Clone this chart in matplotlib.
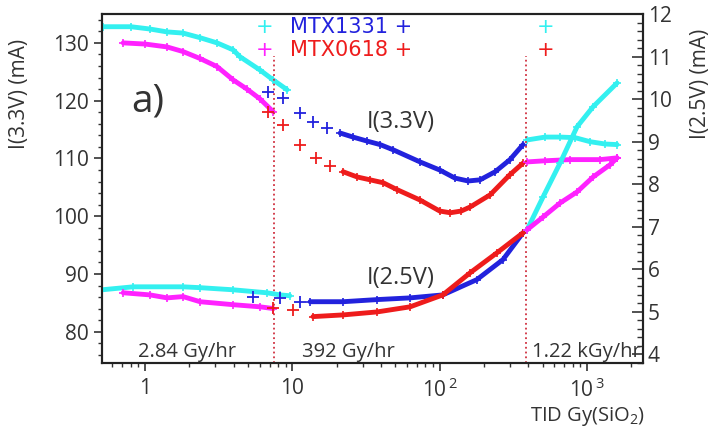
import matplotlib.pyplot as plt
import numpy as np

plt.rcParams['font.family'] = ['Open Sans', 'DejaVu Sans']

# I(3.3V) in mA (left axis), dose in Gy(SiO2)
c33_x = [0.52, 0.8, 1.08, 1.41, 1.81, 2.36, 3.08, 3.96, 4.41, 6.03, 7.4, 9.2]
c33_y = [132.8, 132.8, 132.4, 131.9, 131.7, 130.9, 130.0, 128.8, 127.6, 125.3, 123.6, 121.9]
m33_x = [0.71, 1.0, 1.41, 1.81, 2.36, 3.08, 3.96, 4.92, 6.03, 7.4]
m33_y = [130.0, 129.8, 129.3, 128.5, 127.3, 125.9, 123.6, 122.0, 120.3, 118.1]
b33_x = [6.8, 8.65, 11.3, 13.8, 17.2, 21.1, 25.8, 32.2, 39.4, 48.3, 73.6, 100, 127, 156, 188, 238, 300, 368]
b33_y = [121.5, 120.5, 117.9, 116.3, 115.3, 114.4, 113.7, 113.0, 112.4, 111.5, 109.4, 108.0, 106.6, 106.1, 106.3, 107.7, 109.8, 112.4]
r33_x = [6.8, 8.65, 11.3, 14.5, 18.0, 22.1, 27.5, 33.7, 41.3, 51.4, 73.6, 100, 118, 140, 161, 220, 300, 368]
r33_y = [118.1, 115.8, 112.4, 110.1, 108.7, 107.7, 106.8, 106.3, 105.8, 104.6, 102.8, 100.9, 100.6, 100.9, 101.6, 103.7, 107.2, 109.2]
c33b_x = [392, 520, 657, 830, 1050, 1327, 1601]
c33b_y = [113.2, 113.7, 113.7, 113.6, 112.9, 112.5, 112.4]
m33b_x = [392, 520, 768, 1227, 1601]
m33b_y = [109.4, 109.6, 109.8, 109.8, 110.1]

# I(2.5V) in mA (right axis)
c25_x = [0.51, 0.83, 1.81, 2.36, 3.96, 6.7, 8.26, 9.6]
c25_y = [5.52, 5.59, 5.59, 5.57, 5.52, 5.45, 5.40, 5.38]
m25_x = [0.71, 1.08, 1.41, 1.81, 2.36, 3.96, 6.03, 7.4]
m25_y = [5.45, 5.40, 5.33, 5.36, 5.24, 5.17, 5.12, 5.08]
b25_x = [5.4, 8.26, 11.3, 13.2, 22.1, 37.6, 63, 105, 179, 269, 368]
b25_y = [5.36, 5.33, 5.24, 5.24, 5.24, 5.29, 5.33, 5.40, 5.76, 6.23, 6.86]
r25_x = [7.4, 10.1, 13.8, 22.1, 37.6, 63, 105, 161, 245, 368]
r25_y = [5.10, 5.05, 4.89, 4.93, 5.00, 5.12, 5.40, 5.92, 6.39, 6.86]
c25b_x = [392, 503, 657, 856, 1099, 1601]
c25b_y = [6.93, 7.70, 8.50, 9.35, 9.82, 10.38]
m25b_x = [392, 503, 657, 856, 1099, 1436, 1601]
m25b_y = [6.93, 7.23, 7.56, 7.82, 8.17, 8.46, 8.62]

rate_change = [7.5, 386]

cyan = '#33f0f0'
magenta = '#ff22ff'
blue = '#2222dd'
red = '#ee1c1c'
tc = '#333333'

fig = plt.figure(figsize=(7.19, 4.30), dpi=100)
ax = fig.add_axes([102/719, 1-363/430, 541/719, 349/430])
ax2 = ax.twinx()


def curve(a, x, y, col, sparse_below=None):
    x = np.array(x)
    y = np.array(y)
    if sparse_below is None:
        a.plot(x, y, color=col, lw=3.5, marker='+', ms=6, mew=1.2, solid_capstyle='round')
    else:
        k = x >= sparse_below
        a.plot(x[~k], y[~k], ls='none', color=col, marker='+', ms=9, mew=1.3)
        a.plot(x[k], y[k], color=col, lw=3.5, marker='+', ms=6, mew=1.2, solid_capstyle='round')


curve(ax, c33_x, c33_y, cyan)
curve(ax, m33_x, m33_y, magenta)
curve(ax, b33_x, b33_y, blue, sparse_below=20)
curve(ax, r33_x, r33_y, red, sparse_below=20)
curve(ax, c33b_x, c33b_y, cyan)
curve(ax, m33b_x, m33b_y, magenta)

curve(ax2, c25_x, c25_y, cyan)
curve(ax2, m25_x, m25_y, magenta)
curve(ax2, b25_x, b25_y, blue, sparse_below=12)
curve(ax2, r25_x, r25_y, red, sparse_below=12)
curve(ax2, c25b_x, c25b_y, cyan)
curve(ax2, m25b_x, m25b_y, magenta)

for xv in rate_change:
    ax.axvline(xv, ymin=0, ymax=0.88, color='#d03040', ls=':', lw=1.3)

ax.set_xscale('log')
ax.set_xlim(0.51, 2400)
ax.set_ylim(74.6, 135.0)
ax2.set_ylim(3.81, 12.0)

ax.set_xticks([1, 10, 100, 1000])
ax.set_xticklabels(['1', '10', r'$\mathregular{10^{\,2}}$', r'$\mathregular{10^{\,3}}$'])
ax.set_yticks(np.arange(80, 131, 10))
ax.set_yticks(np.arange(76, 135, 2), minor=True)
ax2.set_yticks(np.arange(4, 13, 1))
ax2.set_yticks(np.arange(3.8, 12.01, 0.2), minor=True)

ax.tick_params(axis='both', which='major', labelsize=15, colors=tc, length=6, width=1.2, direction='out')
ax.tick_params(axis='both', which='minor', length=3, width=1, direction='out', colors=tc)
ax.tick_params(axis='x', which='major', pad=5)
ax2.tick_params(axis='y', which='major', labelsize=15, colors=tc, length=8, width=1.2, direction='in')
ax2.tick_params(axis='y', which='minor', length=4, width=1, direction='in', colors=tc)

for a in (ax, ax2):
    for s in a.spines.values():
        s.set_linewidth(1.5)
        s.set_color('#222222')

ax.set_ylabel('I(3.3V) (mA)', fontsize=15, color=tc)
ax.yaxis.set_label_coords(-0.133, 0.77)
ax2.set_ylabel('I(2.5V) (mA)', fontsize=15, color=tc)
ax2.yaxis.set_label_coords(1.087, 0.80)
fig.text(645/719, 1-417/430, r'TID Gy(SiO$_\mathregular{2}$)', fontsize=14.5, color=tc, ha='right', va='center')

tr = ax.transAxes
ax.text(0.085, 0.75, 'a)', transform=tr, fontsize=28, color=tc, ha='center', va='center')
ax.text(0.49, 0.69, 'I(3.3V)', transform=tr, fontsize=17, color=tc, va='center')
ax.text(0.49, 0.244, 'I(2.5V)', transform=tr, fontsize=17, color=tc, va='center')
ax.text(0.067, 0.032, '2.84 Gy/hr', transform=tr, fontsize=14.5, color=tc, va='center')
ax.text(0.37, 0.032, '392 Gy/hr', transform=tr, fontsize=14.5, color=tc, va='center')
ax.text(0.795, 0.032, '1.22 kGy/hr', transform=tr, fontsize=14.5, color=tc, va='center')

lf = 'DejaVu Sans'
ax.text(0.348, 0.962, 'MTX1331 +', transform=tr, fontsize=15, family=lf, color=blue, va='center')
ax.text(0.348, 0.898, 'MTX0618 +', transform=tr, fontsize=15, family=lf, color=red, va='center')
ax.text(0.301, 0.962, '+', transform=tr, fontsize=15, family=lf, color=cyan, va='center', ha='center')
ax.text(0.301, 0.898, '+', transform=tr, fontsize=15, family=lf, color=magenta, va='center', ha='center')
ax.text(0.819, 0.962, '+', transform=tr, fontsize=15, family=lf, color=cyan, va='center', ha='center')
ax.text(0.819, 0.898, '+', transform=tr, fontsize=15, family=lf, color=red, va='center', ha='center')

fig.savefig('out.png', dpi=100)
